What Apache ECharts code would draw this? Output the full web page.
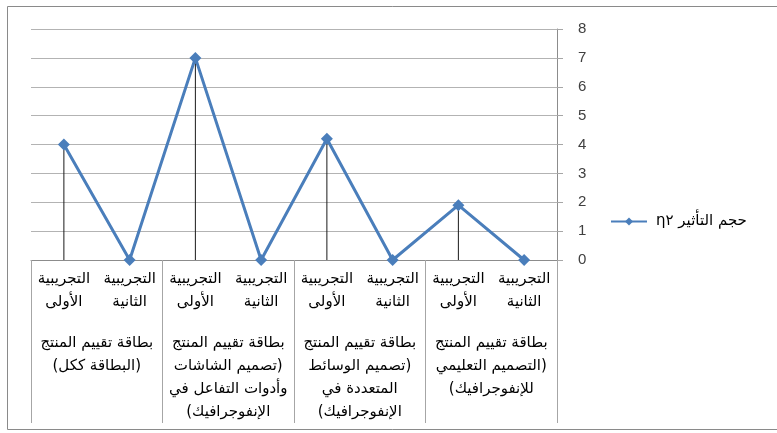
<!DOCTYPE html>
<html>
<head>
<meta charset="utf-8">
<script src="https://cdn.jsdelivr.net/npm/echarts@6/dist/echarts.min.js"></script>
<style>
  html, body { margin: 0; padding: 0; background: #fff; }
  #chart { width: 777px; height: 433px; }
</style>
</head>
<body>
<div id="chart" dir="rtl"></div>
<script>
// Effect size per experimental group, listed per evaluation card section
const seriesName = 'حجم التأثير η٢';
const pointLabels = [
  'التجريبية\nالأولى', 'التجريبية\nالثانية',
  'التجريبية\nالأولى', 'التجريبية\nالثانية',
  'التجريبية\nالأولى', 'التجريبية\nالثانية',
  'التجريبية\nالأولى', 'التجريبية\nالثانية'
];
const groupLabels = [
  'بطاقة تقييم المنتج\n(البطاقة ككل)',
  'بطاقة تقييم المنتج\n(تصميم الشاشات\nوأدوات التفاعل في\nالإنفوجرافيك)',
  'بطاقة تقييم المنتج\n(تصميم الوسائط\nالمتعددة في\nالإنفوجرافيك)',
  'بطاقة تقييم المنتج\n(التصميم التعليمي\nللإنفوجرافيك)'
];
const effectValues = [4, 0, 7, 0, 4.2, 0, 1.9, 0];
const yTicks = [0, 1, 2, 3, 4, 5, 6, 7, 8];

const arabicFont = '"DejaVu Sans", sans-serif';

const chart = echarts.init(document.getElementById('chart'), null, { renderer: 'canvas' });

chart.setOption({
  animation: false,
  backgroundColor: '#ffffff',
  grid: {
    left: 31, right: 220, top: 29, bottom: 173,
    containLabel: false,
    outerBoundsMode: 'none'
  },
  legend: {
    data: [seriesName],
    left: 610, top: 214,
    padding: 0,
    itemWidth: 36, itemHeight: 10,
    itemGap: 8,
    textStyle: { fontFamily: arabicFont, fontSize: 15, color: '#000', padding: [0, 0, 0, 4] }
  },
  xAxis: [
    {
      type: 'category',
      position: 'bottom',
      data: pointLabels,
      boundaryGap: true,
      axisLine: { show: true, lineStyle: { color: '#8c8c8c', width: 1 } },
      axisTick: {
        show: true,
        length: 163,
        interval: function (i) { return i % 2 === 0; },
        lineStyle: { color: '#a6a6a6', width: 1 }
      },
      axisLabel: {
        interval: 0,
        margin: 8,
        fontFamily: arabicFont,
        fontSize: 15,
        lineHeight: 23,
        color: '#000'
      },
      splitLine: { show: false }
    },
    {
      type: 'category',
      position: 'bottom',
      data: groupLabels,
      boundaryGap: true,
      axisLine: { show: false },
      axisTick: { show: false },
      axisLabel: {
        interval: 0,
        margin: 72,
        fontFamily: arabicFont,
        fontSize: 15,
        lineHeight: 23,
        color: '#000'
      },
      splitLine: { show: false }
    }
  ],
  yAxis: {
    type: 'value',
    position: 'right',
    min: yTicks[0],
    max: yTicks[yTicks.length - 1],
    interval: 1,
    axisLine: { show: true, lineStyle: { color: '#8c8c8c', width: 1 } },
    axisTick: { show: true, length: 6, lineStyle: { color: '#a6a6a6' } },
    axisLabel: {
      margin: 21,
      fontFamily: '"Liberation Sans", Arial, sans-serif',
      fontSize: 15,
      color: '#404040'
    },
    splitLine: { show: true, lineStyle: { color: '#b3b3b3', width: 1 } }
  },
  graphic: [
    {
      type: 'rect',
      silent: true,
      shape: { x: 7.5, y: 6.5, width: 800, height: 423 },
      style: { fill: null, stroke: '#8a8a8a', lineWidth: 1 },
      z: 100
    }
  ],
  series: [
    {
      // drop lines from each point to the category axis
      type: 'bar',
      name: 'drop',
      data: effectValues,
      barWidth: 1,
      itemStyle: { color: '#1a1a1a' },
      z: 1,
      silent: true
    },
    {
      type: 'line',
      name: seriesName,
      data: effectValues,
      symbol: 'diamond',
      symbolSize: 12,
      lineStyle: { color: '#4a7ebb', width: 3 },
      itemStyle: { color: '#4a7ebb' },
      z: 5
    }
  ]
});
</script>
</body>
</html>
